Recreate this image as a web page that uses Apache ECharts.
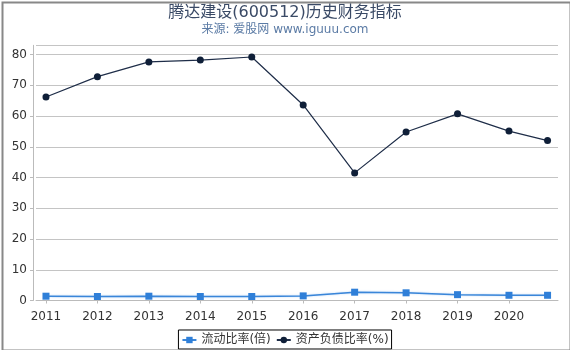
<!DOCTYPE html>
<html><head><meta charset="utf-8">
<script src="https://cdn.jsdelivr.net/npm/echarts@6/dist/echarts.min.js"></script>
<style>html,body{margin:0;padding:0;background:#fff}#c{width:570px;height:350px}</style>
</head><body><div id="c"></div>
<script>
const years = [2011, 2012, 2013, 2014, 2015, 2016, 2017, 2018, 2019, 2020, 2020.75];
const tickYears = [2011, 2012, 2013, 2014, 2015, 2016, 2017, 2018, 2019, 2020];
const currentRatio = [1.4, 1.3, 1.4, 1.3, 1.3, 1.5, 2.7, 2.5, 1.9, 1.7, 1.7];
const debtRatio = [66.2, 72.8, 77.6, 78.2, 79.2, 63.6, 41.5, 54.8, 60.7, 55.1, 52.0];
const seriesNames = ['流动比率(倍)', '资产负债比率(%)'];
const titleText = '腾达建设(600512)历史财务指标';
const subText = '来源: 爱股网 www.iguuu.com';

const chart = echarts.init(document.getElementById('c'), null, {renderer: 'canvas'});
const font = '"DejaVu Sans", "Noto Sans CJK SC", sans-serif';
chart.setOption({
  animation: false,
  title: {
    text: titleText, subtext: subText, left: 'center', top: 0, itemGap: 3,
    textStyle: {fontSize: 16, fontWeight: 'normal', color: '#3a4a66', fontFamily: font},
    subtextStyle: {fontSize: 12, color: '#5b7ba5', fontFamily: font}
  },
  legend: {
    bottom: 1, left: 'center', itemGap: 5, itemWidth: 14, itemHeight: 8,
    borderColor: '#000', borderWidth: 1, padding: [4, 3, 3, 3],
    textStyle: {fontSize: 12, color: '#333', fontFamily: font},
    data: seriesNames
  },
  grid: {left: 36, right: 12, top: 45.3, bottom: 49.5},
  xAxis: {
    type: 'value', min: 2010.806, max: 2020.953, offset: 4,
    axisLine: {lineStyle: {color: '#bbb'}},
    axisTick: {lineStyle: {color: '#bbb'}, length: 3, customValues: tickYears},
    splitLine: {show: false},
    axisLabel: {color: '#333', fontSize: 12, fontFamily: font, margin: 6,
      customValues: tickYears, formatter: v => String(v)}
  },
  yAxis: {
    type: 'value', min: 0, max: 83, interval: 10, offset: 3,
    axisLine: {show: true, lineStyle: {color: '#bbb'}},
    axisTick: {show: true, length: 3, lineStyle: {color: '#bbb'}},
    splitLine: {lineStyle: {color: '#c4c4c4'}},
    axisLabel: {color: '#333', fontSize: 12, fontFamily: font, margin: 6,
      showMaxLabel: false}
  },
  series: [
    {
      name: seriesNames[0], type: 'line', data: years.map((y, i) => [y, currentRatio[i]]),
      symbol: 'rect', symbolSize: 7,
      itemStyle: {color: '#2f7fd8'},
      lineStyle: {color: '#3a86d9', width: 1.5, shadowColor: 'rgba(80,150,230,0.4)', shadowBlur: 2}
    },
    {
      name: seriesNames[1], type: 'line', data: years.map((y, i) => [y, debtRatio[i]]),
      symbol: 'circle', symbolSize: 7,
      itemStyle: {color: '#0f1f38'},
      lineStyle: {color: '#1e2d48', width: 1.2}
    }
  ],
  graphic: [{
    type: 'rect', left: 0, top: 0, silent: true, z: 100,
    shape: {x: 0, y: 0, width: 568, height: 348},
    style: {fill: 'none', stroke: '#888', lineWidth: 2}
  }]
});
</script></body></html>
